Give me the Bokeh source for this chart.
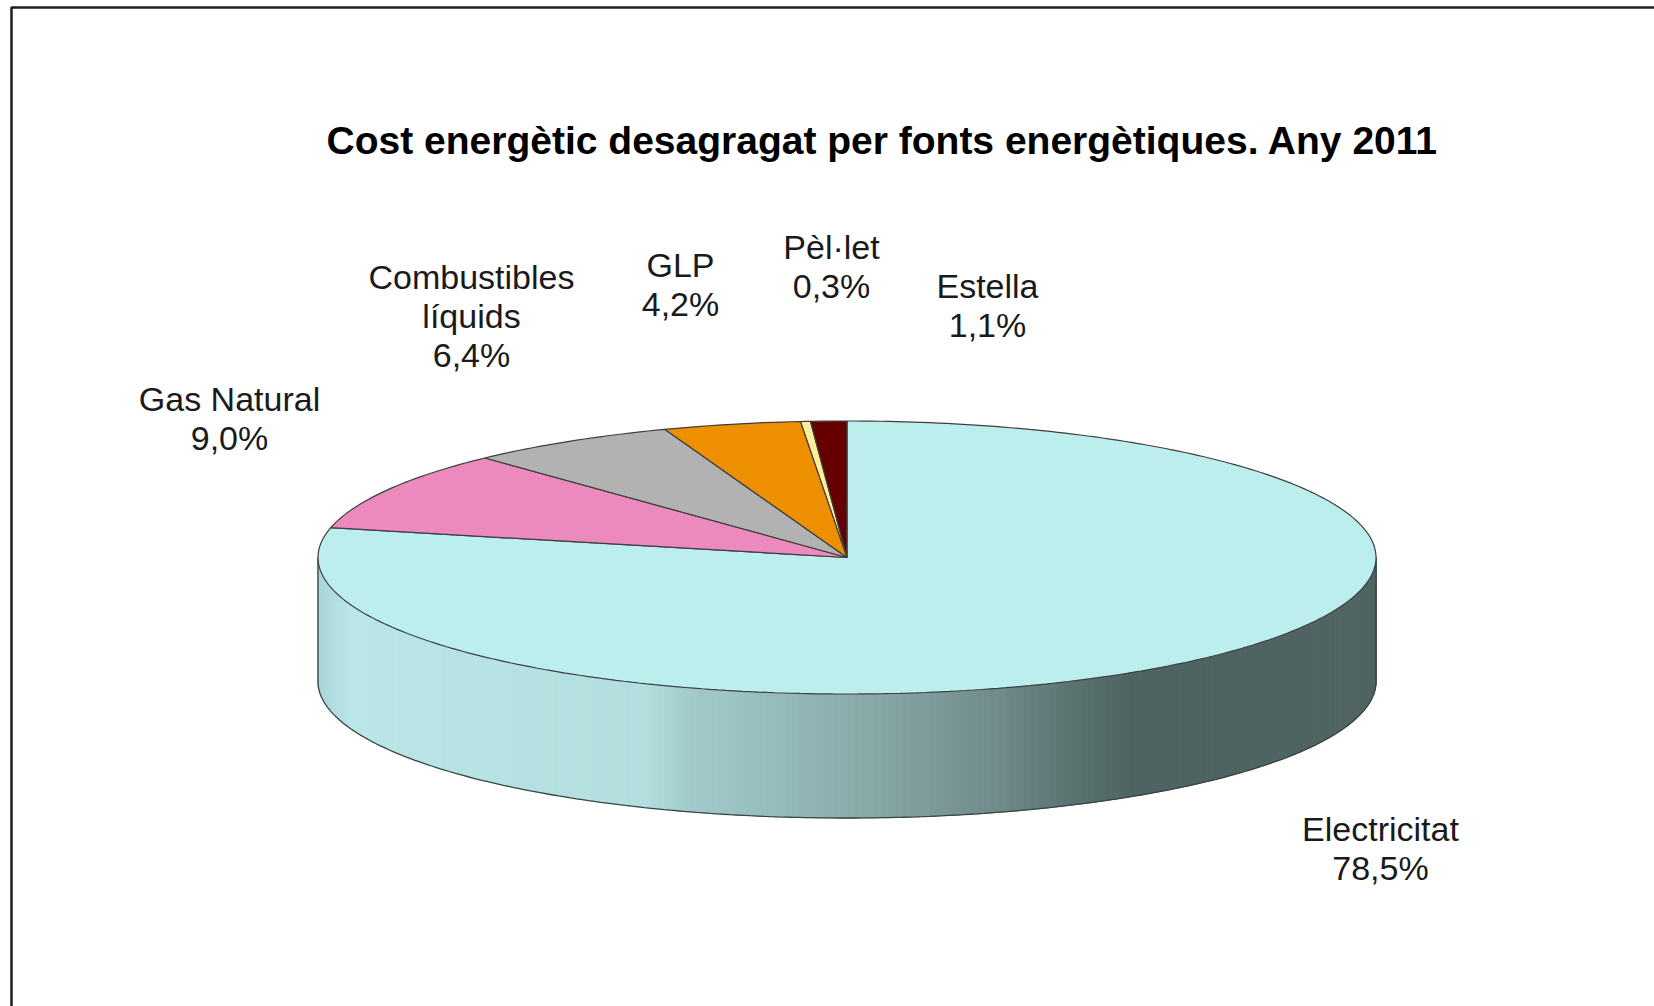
from bokeh.core.properties import value
from bokeh.embed import file_html
from bokeh.models import Range1d
from bokeh.plotting import figure
from bokeh.resources import INLINE
import numpy as np

TITLE = "Cost energètic desagragat per fonts energètiques. Any 2011"
names = ["Electricitat", "Gas Natural", "Combustibles\nlíquids", "GLP", "Pèl·let", "Estella"]
shares = [78.5, 9.0, 6.4, 4.2, 0.3, 1.1]
colors = ["#BDEEEE", "#EC8ABD", "#B2B2B2", "#EE8F00", "#FFEE99", "#660000"]
wall_stops_x = [0.0, 0.03, 0.31, 0.35, 0.42, 0.50, 0.645, 0.72, 0.77, 1.0]
wall_stops_rgb = [(170, 212, 216), (186, 230, 232), (178, 222, 222), (162, 202, 202), (150, 190, 190),
                  (140, 172, 172), (112, 138, 138), (88, 112, 110), (78, 100, 98), (80, 100, 98)]

# layout in page pixels
W, H = 1654, 1006
CX, CY, RX, RY, DEPTH = 846.5, 557, 529, 136.5, 124
LABEL_XY = [(1380, 828), (229, 398), (471, 276), (680, 264), (831, 246), (987, 285)]
LINE_H = 39


def pt(frac):
    a = 2 * np.pi * np.asarray(frac)
    return CX + RX * np.sin(a), CY - RY * np.cos(a)


# electricity runs clockwise from 12 o'clock; the small wedges are stacked back from 12 o'clock
back = 1.0 - sum(shares[2:]) / 100
edges = [back]
for s in shares[2:]:
    edges.append(edges[-1] + s / 100)
wedges = [(0.0, shares[0] / 100), (shares[0] / 100, edges[0])] + list(zip(edges[:-1], edges[1:]))

p = figure(width=W, height=H, output_backend="svg", toolbar_location=None,
           x_range=Range1d(0, W), y_range=Range1d(H, 0), min_border=0,
           background_fill_color="white", border_fill_color="white")
p.axis.visible = False
p.grid.visible = False
p.outline_line_color = None

# side wall
ts = np.linspace(0.25, 0.75, 241)  # clockwise fraction: right side through bottom to left
xs_w, ys_w, cs_w = [], [], []
for a, b in zip(ts[:-1], ts[1:]):
    xa, ya = pt(a)
    xb, yb = pt(b)
    f = (0.5 * (xa + xb) - (CX - RX)) / (2 * RX)
    col = [int(round(np.interp(f, wall_stops_x, [c[i] for c in wall_stops_rgb]))) for i in range(3)]
    xs_w.append([xa, xb, xb, xa])
    ys_w.append([ya, yb, yb + DEPTH, ya + DEPTH])
    cs_w.append("#%02X%02X%02X" % tuple(col))
p.patches(xs_w, ys_w, fill_color=cs_w, line_color=cs_w, line_width=1)

# wall outline
xo, yo = pt(ts)
p.line(np.r_[xo[0], xo, xo[-1]], np.r_[yo[0], yo + DEPTH, yo[-1]], line_color="#3A4444", line_width=1.3)

# top face
for (a, b), c in zip(wedges, colors):
    n = max(3, int((b - a) * 400))
    ex, ey = pt(np.linspace(a, b, n))
    p.patch(np.r_[CX, ex], np.r_[CY, ey], fill_color=c, line_color="#3F3F3F", line_width=1.2)

# title and labels
p.text([882], [140], text=[TITLE], text_font=value("Liberation Sans"), text_font_style="bold",
       text_font_size="39px", text_color="#000000", text_align="center", text_baseline="middle")
for name, share, (lx, ly) in zip(names, shares, LABEL_XY):
    lines = name.split("\n") + [f"{share:.1f}%".replace(".", ",")]
    for i, t in enumerate(lines):
        p.text([lx], [ly + i * LINE_H], text=[t], text_font=value("Liberation Sans"),
               text_font_size="34px", text_color="#1A1A1A", text_align="center", text_baseline="middle")

# frame: left and top rules of the picture
p.line([11, 11, W], [H, 7, 7], line_color="#1E1E1E", line_width=2.5)

open("out.html", "w").write(file_html(p, INLINE))
